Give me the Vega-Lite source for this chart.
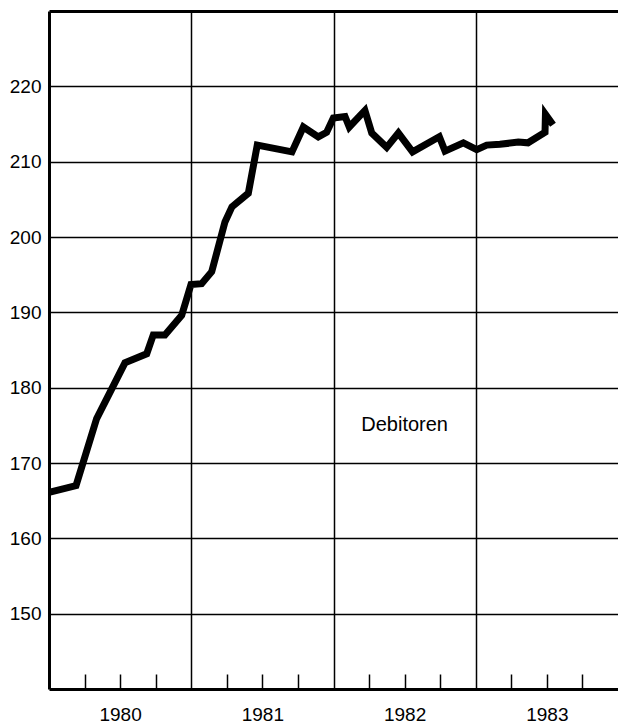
{
  "$schema": "https://vega.github.io/schema/vega-lite/v6.json",
  "width": 569,
  "height": 678,
  "autosize": {"type": "none"},
  "padding": {"left": 49, "top": 11, "right": 0, "bottom": 36},
  "background": "white",
  "config": {
    "view": {"stroke": null},
    "font": "Liberation Sans"
  },
  "layer": [
    {
      "data": {
        "values": [
          {"year": 1980.000, "value": 166.1},
          {"year": 1980.190, "value": 167.0},
          {"year": 1980.335, "value": 175.9},
          {"year": 1980.534, "value": 183.3},
          {"year": 1980.687, "value": 184.5},
          {"year": 1980.733, "value": 187.0},
          {"year": 1980.815, "value": 187.0},
          {"year": 1980.933, "value": 189.6},
          {"year": 1980.998, "value": 193.7},
          {"year": 1981.073, "value": 193.8},
          {"year": 1981.144, "value": 195.4},
          {"year": 1981.237, "value": 202.0},
          {"year": 1981.286, "value": 204.0},
          {"year": 1981.401, "value": 205.8},
          {"year": 1981.464, "value": 212.2},
          {"year": 1981.708, "value": 211.3},
          {"year": 1981.788, "value": 214.6},
          {"year": 1981.893, "value": 213.3},
          {"year": 1981.952, "value": 213.9},
          {"year": 1981.999, "value": 215.8},
          {"year": 1982.081, "value": 216.0},
          {"year": 1982.111, "value": 214.6},
          {"year": 1982.221, "value": 216.8},
          {"year": 1982.269, "value": 213.8},
          {"year": 1982.374, "value": 211.9},
          {"year": 1982.456, "value": 213.8},
          {"year": 1982.556, "value": 211.3},
          {"year": 1982.744, "value": 213.3},
          {"year": 1982.784, "value": 211.4},
          {"year": 1982.913, "value": 212.5},
          {"year": 1983.007, "value": 211.6},
          {"year": 1983.077, "value": 212.2},
          {"year": 1983.170, "value": 212.3},
          {"year": 1983.299, "value": 212.6},
          {"year": 1983.367, "value": 212.5},
          {"year": 1983.487, "value": 213.9},
          {"year": 1983.490, "value": 216.3},
          {"year": 1983.543, "value": 214.9}
        ]
      },
      "mark": {"type": "line", "color": "black", "strokeWidth": 7, "strokeJoin": "miter", "strokeCap": "butt"},
      "encoding": {
        "x": {
          "field": "year",
          "type": "quantitative",
          "scale": {"domain": [1980, 1984], "nice": false, "zero": false},
          "axis": {
            "title": null,
            "values": [1980.25, 1980.5, 1980.75, 1981, 1981.25, 1981.5, 1981.75, 1982, 1982.25, 1982.5, 1982.75, 1983, 1983.25, 1983.5, 1983.75],
            "grid": true,
            "gridColor": "black",
            "gridWidth": 1.5,
            "gridOpacity": {"condition": {"test": "datum.value % 1 === 0", "value": 1}, "value": 0},
            "ticks": true,
            "tickSize": -15,
            "tickColor": "black",
            "tickWidth": 1.5,
            "tickOpacity": {"condition": {"test": "datum.value % 1 === 0", "value": 0}, "value": 1},
            "labelExpr": "datum.value % 1 === 0.5 ? '' + floor(datum.value) : ''",
            "labelFont": "Liberation Sans",
            "labelFontSize": 19,
            "labelColor": "black",
            "labelPadding": 31,
            "labelFlush": false,
            "labelOverlap": false,
            "domain": true,
            "domainColor": "black",
            "domainWidth": 3
          }
        },
        "y": {
          "field": "value",
          "type": "quantitative",
          "scale": {"domain": [140, 230], "nice": false, "zero": false},
          "axis": {
            "title": null,
            "values": [150, 160, 170, 180, 190, 200, 210, 220, 230],
            "grid": true,
            "gridColor": "black",
            "gridWidth": {"condition": {"test": "datum.value === 230", "value": 3}, "value": 1.5},
            "ticks": false,
            "labelExpr": "datum.value === 230 ? '' : datum.label",
            "labelFont": "Liberation Sans",
            "labelFontSize": 19,
            "labelColor": "black",
            "labelPadding": 8,
            "labelOverlap": false,
            "domain": true,
            "domainColor": "black",
            "domainWidth": 3
          }
        }
      }
    },
    {
      "data": {"values": [{"label": "Debitoren"}]},
      "mark": {"type": "text", "font": "Liberation Sans", "fontSize": 20, "color": "black", "align": "center", "baseline": "middle"},
      "encoding": {
        "text": {"field": "label"},
        "x": {"datum": 1982.5, "type": "quantitative"},
        "y": {"datum": 175, "type": "quantitative"}
      }
    }
  ]
}
